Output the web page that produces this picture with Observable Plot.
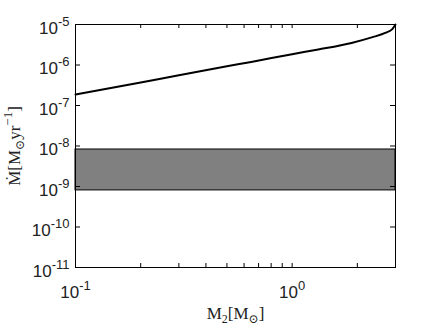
<!DOCTYPE html>
<html><head><meta charset="utf-8">
<script src="https://cdn.jsdelivr.net/npm/d3@7"></script>
<script src="https://cdn.jsdelivr.net/npm/@observablehq/plot@0.6"></script>
<style>body{margin:0;background:#fff}</style>
</head><body><div id="chart"></div>
<script>
// Data
const massX = [0.1, 0.2, 0.3, 0.5, 0.647, 1.0, 1.32, 1.88, 2.33, 2.69, 2.9, 3.0];
const mdot  = [1.86e-7, 3.7e-7, 5.6e-7, 9.3e-7, 1.19e-6, 1.85e-6, 2.41e-6, 3.5e-6, 4.8e-6, 6.2e-6, 7.7e-6, 1.0e-5];
const bandX = [0.1, 3];
const bandY = [8e-10, 8.2e-9];
const xMajor = [0.1, 1];
const xMinor = [0.2, 0.3, 0.4, 0.5, 0.6, 0.7, 0.8, 0.9, 2, 3];
const yMajor = [1e-11, 1e-10, 1e-9, 1e-8, 1e-7, 1e-6, 1e-5];
const xTickLabels = ["10^{-1}", "10^{0}"];
const yTickLabels = ["10^{-11}", "10^{-10}", "10^{-9}", "10^{-8}", "10^{-7}", "10^{-6}", "10^{-5}"];
const xLabel = "M_{2}[M_{⊙}]";
const yLabel = "Ṁ[M_{⊙}yr^{−1}]";

const curve = massX.map((m, i) => ({m, v: mdot[i]}));
const band = [{x1: bandX[0], x2: bandX[1], y1: bandY[0], y2: bandY[1]}];
const xTicks = xMajor.concat(xMinor);
const sans = "Liberation Sans, Arial, Helvetica, sans-serif";
const serif = "Liberation Serif, DejaVu Serif, Times New Roman, serif";

const W = 436, H = 327, ML = 75, MR = 41, MT = 24, MB = 60;
const FW = W - ML - MR, FH = H - MT - MB;
const TL = 4;

const chart = Plot.plot({
  width: W, height: H,
  marginLeft: ML, marginRight: MR, marginTop: MT, marginBottom: MB,
  x: {type: "log", domain: [0.1, 3], axis: null},
  y: {type: "log", domain: [1e-11, 1e-5], axis: null},
  style: {background: "#fff"},
  marks: [
    Plot.rect(band, {x1: "x1", x2: "x2", y1: "y1", y2: "y2", fill: "#808080", stroke: "#000", strokeWidth: 1}),
    Plot.line(curve, {x: "m", y: "v", stroke: "#000", strokeWidth: 2, curve: "monotone-x"}),
    // inward tick marks (MATLAB style) on all four sides
    Plot.ruleX(xTicks, {x: d => d, insetTop: FH - TL, stroke: "#000"}),
    Plot.ruleX(xTicks, {x: d => d, insetBottom: FH - TL, stroke: "#000"}),
    Plot.ruleY(yMajor, {y: d => d, insetRight: FW - TL - 1, stroke: "#000"}),
    Plot.ruleY(yMajor, {y: d => d, insetLeft: FW - TL - 1, stroke: "#000"}),
    Plot.frame({stroke: "#000", strokeWidth: 1}),
    Plot.text(xMajor, {x: d => d, text: (d, i) => xTickLabels[i], frameAnchor: "bottom", dy: 25, lineAnchor: "middle", textAnchor: "middle", fontSize: 17, fontFamily: sans, fill: "#222"}),
    Plot.text(yMajor, {y: d => d, text: (d, i) => yTickLabels[i], frameAnchor: "left", dx: -6, dy: 4, lineAnchor: "middle", textAnchor: "end", fontSize: 17, fontFamily: sans, fill: "#222"}),
    Plot.text([xLabel], {text: d => d, frameAnchor: "bottom", dy: 46, lineAnchor: "middle", textAnchor: "middle", fontSize: 17, fontFamily: serif, fill: "#222"}),
    Plot.text([yLabel], {text: d => d, frameAnchor: "left", dx: -61, rotate: -90, lineAnchor: "middle", textAnchor: "middle", fontSize: 17, fontFamily: serif, fill: "#222"})
  ]
});

// Convert ^{..} and _{..} markup into real superscript/subscript tspans
d3.select(chart).selectAll("text").each(function() {
  const t = this.textContent;
  if (!/[_^]\{/.test(t)) return;
  const el = d3.select(this);
  el.text(null);
  const re = /([_^])\{([^}]*)\}/g;
  let last = 0, m, shift = 0;
  const add = (s, type) => {
    if (!s) return;
    const ts = el.append("tspan").text(s);
    const target = type === "^" ? -8 : type === "_" ? 4 : 0;
    if (target !== shift) ts.attr("dy", target - shift);
    shift = target;
    if (type) ts.attr("font-size", type === "^" ? 13 : 12);
  };
  while ((m = re.exec(t))) {
    add(t.slice(last, m.index), null);
    add(m[2], m[1]);
    last = re.lastIndex;
  }
  add(t.slice(last), null);
});

document.getElementById("chart").appendChild(chart);
</script>
</body></html>
